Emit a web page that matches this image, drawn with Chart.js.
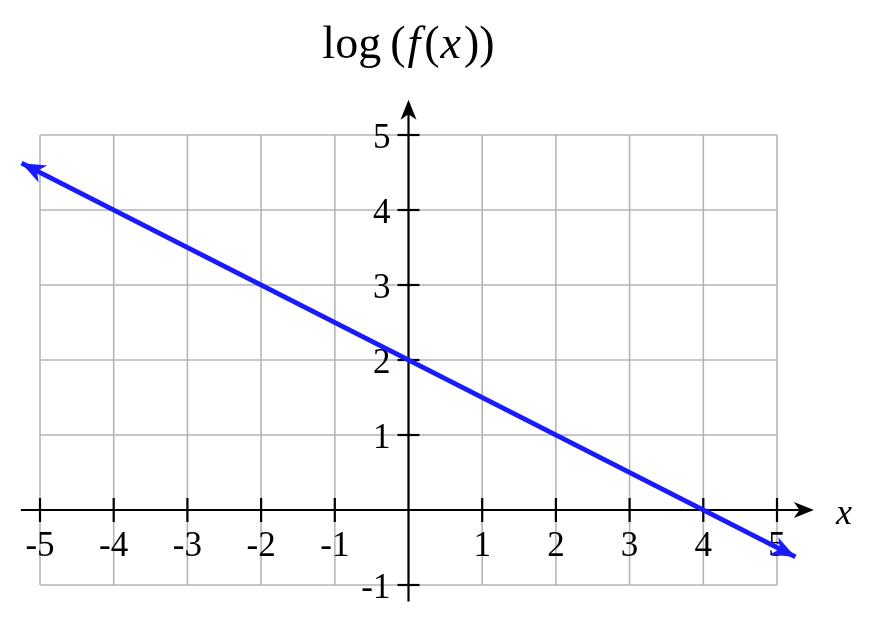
<!DOCTYPE html>
<html>
<head>
<meta charset="utf-8">
<script src="https://cdn.jsdelivr.net/npm/chart.js@4.4.0/dist/chart.umd.min.js"></script>
<style>
html,body{margin:0;padding:0;background:#fff;}
#wrap{width:870px;height:618px;}
</style>
</head>
<body>
<div id="wrap"><canvas id="c" width="870" height="618"></canvas></div>
<script>
// Data
const gridXValues = [-5,-4,-3,-2,-1,0,1,2,3,4,5];
const gridYValues = [-1,0,1,2,3,4,5];
const xTickValues = [-5,-4,-3,-2,-1,1,2,3,4,5];
const xTickLabels = ['-5','-4','-3','-2','-1','1','2','3','4','5'];
const yTickValues = [-1,1,2,3,4,5];
const yTickLabels = ['-1','1','2','3','4','5'];
const lineX = [-5.25, 5.25];
const lineY = [4.625, -0.625];
const titleParts = [['log', false, 9], ['(', false, 2], ['f', true, 4], ['(', false, 1], ['x', true, 3], ['))', false, 0]];
const xAxisName = 'x';

const FONT = '"Liberation Serif", "DejaVu Serif", serif';

function arrowHead(ctx, tipX, tipY, angle, len, half, color) {
  ctx.save();
  ctx.translate(tipX, tipY);
  ctx.rotate(angle);
  ctx.beginPath();
  ctx.moveTo(0, 0);
  ctx.lineTo(-len, -half);
  ctx.lineTo(-len * 0.72, 0);
  ctx.lineTo(-len, half);
  ctx.closePath();
  ctx.fillStyle = color;
  ctx.fill();
  ctx.restore();
}

const decor = {
  id: 'decor',
  beforeDatasetsDraw(chart) {
    const ctx = chart.ctx;
    const xs = chart.scales.x, ys = chart.scales.y;
    const gx0 = xs.getPixelForValue(gridXValues[0]);
    const gx1 = xs.getPixelForValue(gridXValues[gridXValues.length - 1]);
    const gy0 = ys.getPixelForValue(gridYValues[0]);
    const gy1 = ys.getPixelForValue(gridYValues[gridYValues.length - 1]);
    ctx.save();
    // grid
    ctx.strokeStyle = '#b5b5b5';
    ctx.lineWidth = 1.6;
    gridXValues.forEach(v => {
      const p = xs.getPixelForValue(v);
      ctx.beginPath(); ctx.moveTo(p, gy0); ctx.lineTo(p, gy1); ctx.stroke();
    });
    gridYValues.forEach(v => {
      const p = ys.getPixelForValue(v);
      ctx.beginPath(); ctx.moveTo(gx0, p); ctx.lineTo(gx1, p); ctx.stroke();
    });
    // axes
    const ox = xs.getPixelForValue(0), oy = ys.getPixelForValue(0);
    ctx.strokeStyle = '#000';
    ctx.lineWidth = 2.2;
    const axL = xs.getPixelForValue(-5.26), axR = xs.getPixelForValue(5.5);
    const ayB = ys.getPixelForValue(-1.22), ayT = ys.getPixelForValue(5.47);
    ctx.beginPath(); ctx.moveTo(axL, oy); ctx.lineTo(axR - 8, oy); ctx.stroke();
    ctx.beginPath(); ctx.moveTo(ox, ayB); ctx.lineTo(ox, ayT + 8); ctx.stroke();
    arrowHead(ctx, axR, oy, 0, 20, 8, '#000');
    arrowHead(ctx, ox, ayT, -Math.PI / 2, 20, 8, '#000');
    // tick marks
    xTickValues.forEach(v => {
      const p = xs.getPixelForValue(v);
      ctx.beginPath(); ctx.moveTo(p, oy - 12); ctx.lineTo(p, oy + 12); ctx.stroke();
    });
    yTickValues.forEach(v => {
      const p = ys.getPixelForValue(v);
      ctx.beginPath(); ctx.moveTo(ox - 11, p); ctx.lineTo(ox + 11, p); ctx.stroke();
    });
    // tick labels
    ctx.fillStyle = '#000';
    ctx.font = '35px ' + FONT;
    ctx.textAlign = 'center';
    ctx.textBaseline = 'alphabetic';
    xTickValues.forEach((v, i) => {
      ctx.fillText(xTickLabels[i], xs.getPixelForValue(v), oy + 46);
    });
    ctx.textAlign = 'right';
    yTickValues.forEach((v, i) => {
      ctx.fillText(yTickLabels[i], ox - 18, ys.getPixelForValue(v) + 13);
    });
    // x axis name
    ctx.font = 'italic 36px ' + FONT;
    ctx.textAlign = 'left';
    ctx.fillText(xAxisName, 836, oy + 14);
    // title
    const TS = 46;
    let total = 0;
    titleParts.forEach(([t, it, gap]) => {
      ctx.font = (it ? 'italic ' : '') + TS + 'px ' + FONT;
      total += ctx.measureText(t).width + gap;
    });
    let tx = ox - total / 2;
    titleParts.forEach(([t, it, gap]) => {
      ctx.font = (it ? 'italic ' : '') + TS + 'px ' + FONT;
      ctx.fillText(t, tx, 58);
      tx += ctx.measureText(t).width + gap;
    });
    ctx.restore();
  },
  afterDatasetsDraw(chart) {
    const ctx = chart.ctx;
    const xs = chart.scales.x, ys = chart.scales.y;
    const x0 = xs.getPixelForValue(lineX[0]), y0 = ys.getPixelForValue(lineY[0]);
    const x1 = xs.getPixelForValue(lineX[1]), y1 = ys.getPixelForValue(lineY[1]);
    const ang = Math.atan2(y1 - y0, x1 - x0);
    arrowHead(ctx, x1, y1, ang, 24, 9.5, '#1a1aff');
    arrowHead(ctx, x0, y0, ang + Math.PI, 24, 9.5, '#1a1aff');
  }
};

// x: -5 -> 40px, 5 -> 777px; y: 5 -> 135px, -1 -> 585px
const ux = (777 - 40) / 10, uy = (585 - 135) / 6;
const xMin = -5 - 40 / ux, xMax = xMin + 870 / ux;
const yMax = 5 + 135 / uy, yMin = yMax - 618 / uy;

new Chart(document.getElementById('c'), {
  type: 'scatter',
  data: {
    datasets: [{
      data: lineX.map((x, i) => ({x: x, y: lineY[i]})),
      showLine: true,
      borderColor: '#1a1aff',
      borderWidth: 5,
      pointRadius: 0,
      fill: false
    }]
  },
  options: {
    responsive: false,
    animation: false,
    layout: {padding: 0},
    plugins: {legend: {display: false}, tooltip: {enabled: false}},
    scales: {
      x: {type: 'linear', display: false, min: xMin, max: xMax},
      y: {type: 'linear', display: false, min: yMin, max: yMax}
    }
  },
  plugins: [decor]
});
</script>
</body>
</html>
